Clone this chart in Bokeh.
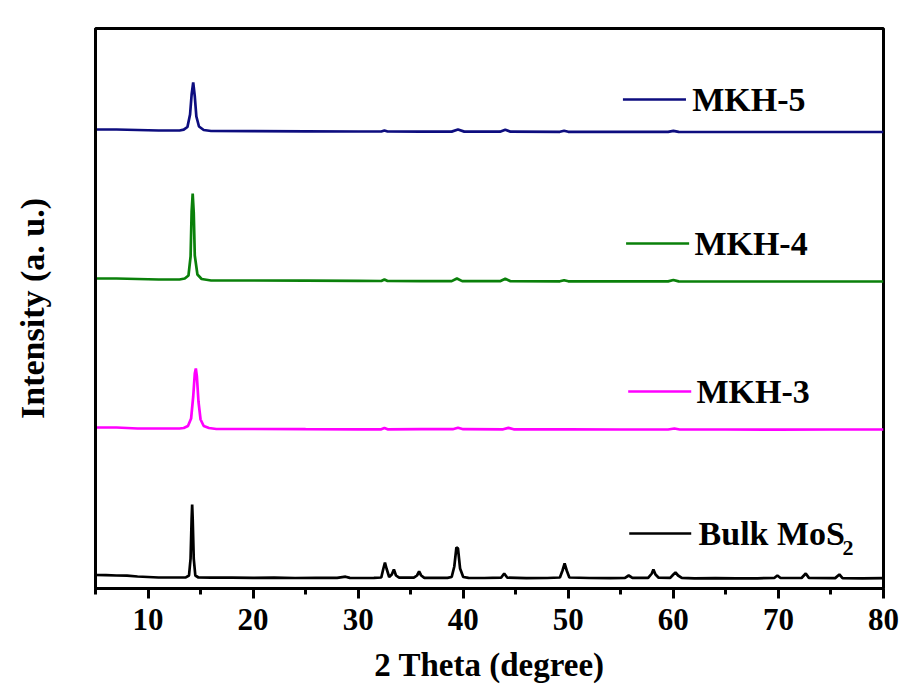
from bokeh.plotting import figure
from bokeh.models import FixedTicker, Range1d
from bokeh.core.properties import value
from bokeh.embed import file_html
from bokeh.resources import INLINE

# 2-theta (degree) and stacked intensity (a.u.) for each XRD pattern
bulk_x = [5, 6, 7, 8, 9, 10, 11, 12, 13, 13.6, 13.9, 14.05, 14.15, 14.2, 14.25, 14.35, 14.5, 14.8,
          16, 18, 20, 22, 24, 26, 28, 28.8, 29.2, 30, 31.5, 32.2, 32.4, 32.55, 32.7, 32.95, 33.2,
          33.4, 33.6, 33.9, 35.3, 35.6, 35.8, 36.0, 36.3, 38.5, 38.9, 39.15, 39.35, 39.5, 39.7,
          40.0, 40.5, 42, 43.6, 43.9, 44.2, 46, 48, 49.2, 49.45, 49.65, 49.85, 50.1, 52, 54,
          55.4, 55.75, 56.1, 57.6, 57.95, 58.1, 58.3, 58.6, 59.7, 60.0, 60.2, 60.45, 60.8, 62,
          64, 66, 68, 69.6, 69.9, 70.2, 72.2, 72.6, 72.9, 75.4, 75.8, 76.1, 78, 80]
bulk_y = [13.5, 13.3, 13.0, 12.8, 12.0, 11.5, 11.0, 11.0, 11.0, 11.2, 13.0, 30, 70, 84, 70, 30, 13.0, 11.0,
          10.8, 10.8, 10.6, 10.8, 10.5, 10.7, 10.6, 11.8, 10.6, 10.5, 10.6, 11.0, 20, 26, 20, 11.5, 14,
          19, 13, 10.8, 10.8, 13, 17, 13, 10.6, 10.6, 11.5, 22, 41, 40, 20,
          11.5, 10.6, 10.5, 10.8, 15, 10.8, 10.4, 10.5, 11.0, 18, 25, 18, 11.0, 10.5, 10.4,
          10.6, 13, 10.6, 10.6, 15, 19, 14, 10.8, 10.6, 14, 16, 13, 10.6, 10.2,
          10.4, 10.2, 10.2, 10.5, 13, 10.5, 10.5, 15, 10.6, 10.4, 14, 10.4, 10.2, 10.4]

mkh3_x = [5, 7, 9, 11, 13, 13.4, 13.8, 14.1, 14.3, 14.45, 14.55, 14.65, 14.8, 15.0, 15.3, 15.8, 16.5,
          20, 25, 30, 32.2, 32.5, 32.8, 36, 39.0, 39.5, 40.0, 43.8, 44.3, 44.8, 50, 55, 59.5, 60.1,
          60.6, 65, 70, 75, 80]
mkh3_y = [161, 161, 160, 160, 160, 160.5, 162.5, 170, 192, 215, 220, 212, 187, 169, 162.5, 160.5,
          159.5, 159.5, 159.3, 159.2, 159.2, 160.5, 159.2, 159.3, 159.3, 160.8, 159.3, 159.2, 160.6,
          159.2, 159.1, 159.0, 159.0, 160.0, 159.0, 159.0, 158.9, 159.0, 159.0]

mkh4_x = [5, 7, 9, 11, 13, 13.5, 13.85, 14.05, 14.15, 14.25, 14.35, 14.45, 14.7, 15.1, 16, 20, 25,
          30, 32.2, 32.5, 32.8, 36, 38.9, 39.4, 39.9, 43.5, 44.0, 44.5, 49.2, 49.6, 50.0, 55, 59.5,
          60.0, 60.5, 65, 70, 75, 80]
mkh4_y = [310, 310, 309.5, 309, 309, 310, 313, 332, 377, 395, 376, 333, 314, 309.5, 308, 308, 307.8,
          307.6, 307.5, 309, 307.5, 307.4, 307.4, 310, 307.4, 307.3, 309.8, 307.3, 307.2, 308.3, 307.2,
          307.1, 307.1, 308.5, 307.1, 307.0, 307.0, 307.0, 307.0]

mkh5_x = [5, 7, 9, 11, 13, 13.4, 13.75, 14.0, 14.15, 14.3, 14.45, 14.6, 14.85, 15.3, 16, 20, 25, 30,
          32.2, 32.5, 32.8, 36, 38.9, 39.5, 40.1, 43.5, 44.0, 44.5, 49.2, 49.6, 50.0, 55, 59.5, 60.0,
          60.5, 65, 70, 75, 80]
mkh5_y = [459, 459, 458.5, 458, 458, 458.8, 461.5, 474, 494, 506, 492, 472, 462, 458.5, 457.5, 457.3,
          457.2, 457.0, 457.0, 458, 457.0, 456.9, 456.9, 459, 456.9, 456.8, 458.8, 456.8, 456.7,
          457.7, 456.7, 456.6, 456.6, 457.6, 456.6, 456.5, 456.5, 456.5, 456.5]

series_x = [mkh5_x, mkh4_x, mkh3_x, bulk_x]
series_y = [mkh5_y, mkh4_y, mkh3_y, bulk_y]
series_colors = ["#0d0d7f", "#0a800a", "#ff00ff", "#000000"]
series_labels = ["MKH-5", "MKH-4", "MKH-3", "Bulk MoS"]

x_ticks = [10, 20, 30, 40, 50, 60, 70, 80]
x_minor = [5, 15, 25, 35, 45, 55, 65, 75]

FONT = "Liberation Serif"

p = figure(width=908, height=693, output_backend="svg", toolbar_location=None,
           x_range=Range1d(5, 80), y_range=Range1d(0, 560),
           min_border_left=95, min_border_right=25, min_border_top=28, min_border_bottom=105)
p.background_fill_color = "white"
p.border_fill_color = "white"
p.grid.visible = False
p.outline_line_color = "black"
p.outline_line_width = 3

for xs, ys, c in zip(series_x, series_y, series_colors):
    p.line(xs, ys, line_color=c, line_width=2.7)

# in-plot legend: a short stroke and a label beside each trace
leg_x0 = [55.2, 55.5, 55.7, 55.8]
leg_x1 = [61.2, 61.5, 61.7, 61.7]
leg_y = [489, 345, 197, 55]
txt_x = [61.8, 62.0, 62.2, 62.4]
p.segment(x0=leg_x0, y0=leg_y, x1=leg_x1, y1=leg_y, line_color=series_colors, line_width=2.7)
p.text(x=txt_x, y=leg_y, text=series_labels, text_font=value(FONT), text_font_style="bold",
       text_font_size="34px", text_baseline="middle", text_align="left", text_color="black")
p.text(x=[76.1], y=[41], text=["2"], text_font=value(FONT), text_font_style="bold",
       text_font_size="22px", text_baseline="middle", text_align="left", text_color="black")

xa = p.xaxis[0]
xa.ticker = FixedTicker(ticks=x_ticks, minor_ticks=x_minor)
xa.axis_label = "2 Theta (degree)"
xa.axis_label_text_font = FONT
xa.axis_label_text_font_style = "bold"
xa.axis_label_text_font_size = "33px"
xa.axis_label_text_color = "black"
xa.axis_label_standoff = 14
xa.major_label_text_font = FONT
xa.major_label_text_font_style = "bold"
xa.major_label_text_font_size = "31px"
xa.major_label_text_color = "black"
xa.major_label_standoff = 10
xa.axis_line_width = 3
xa.major_tick_line_width = 3
xa.minor_tick_line_width = 3
xa.major_tick_out = 10
xa.major_tick_in = 0
xa.minor_tick_out = 6
xa.minor_tick_in = 0

ya = p.yaxis[0]
ya.ticker = FixedTicker(ticks=[])
ya.axis_label = "Intensity (a. u.)"
ya.axis_label_text_font = FONT
ya.axis_label_text_font_style = "bold"
ya.axis_label_text_font_size = "34px"
ya.axis_label_text_color = "black"
ya.axis_label_standoff = 45
ya.axis_line_width = 3
ya.major_tick_line_color = None
ya.minor_tick_line_color = None
ya.major_label_text_font_size = "0px"

open("out.html", "w").write(file_html(p, INLINE))
